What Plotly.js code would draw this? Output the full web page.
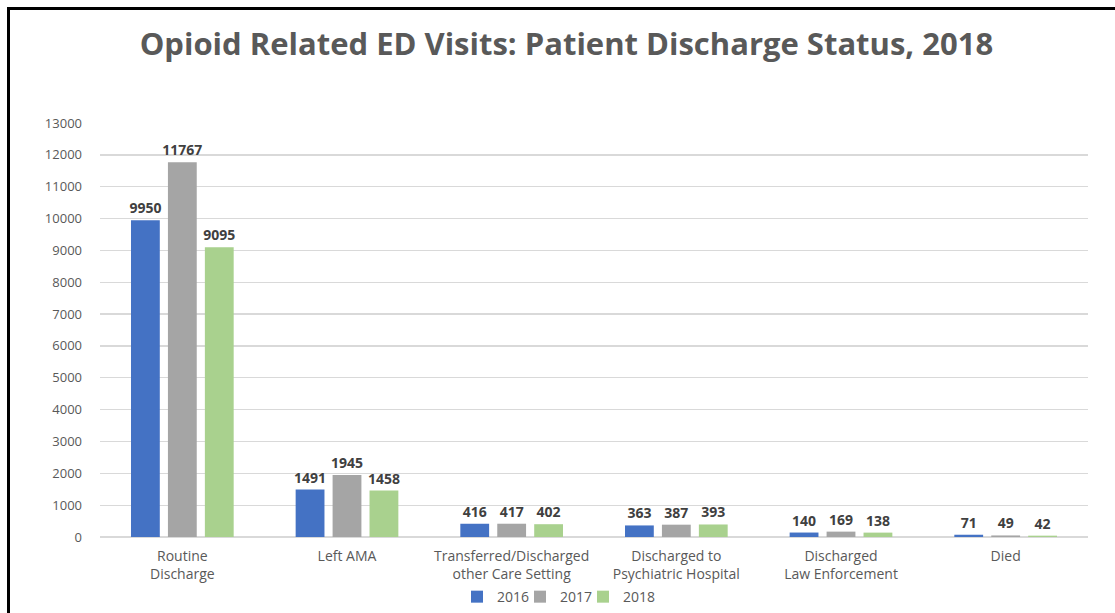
<!DOCTYPE html>
<html>
<head>
<meta charset="utf-8">
<script src="https://cdn.plot.ly/plotly-3.0.1.min.js"></script>
<style>
html,body{margin:0;padding:0;background:#fff;overflow:hidden;}
#wrap{position:relative;width:1115px;height:613px;overflow:hidden;}
#chart{width:1115px;height:613px;}
#frame{position:absolute;left:7px;top:7px;width:1115px;height:620px;border-top:3px solid #000;border-left:3px solid #000;pointer-events:none;}
</style>
</head>
<body>
<div id="wrap"><div id="chart"></div><div id="frame"></div></div>
<script>
const categories = ["Routine<br>Discharge", "Left AMA", "Transferred/Discharged<br>other Care Setting", "Discharged to<br>Psychiatric Hospital", "Discharged<br>Law Enforcement", "Died"];
const series2016 = [9950, 1491, 416, 363, 140, 71];
const series2017 = [11767, 1945, 417, 387, 169, 49];
const series2018 = [9095, 1458, 402, 393, 138, 42];
const seriesNames = ["2016", "2017", "2018"];
const tickValues = [0,1000,2000,3000,4000,5000,6000,7000,8000,9000,10000,11000,12000,13000];

const colors = ["#4472C4", "#A5A5A5", "#A9D18E"];
const legendIds = ["legend", "legend2", "legend3"];
const data = [series2016, series2017, series2018].map((vals, i) => ({
  type: "bar",
  name: seriesNames[i],
  legend: legendIds[i],
  x: categories,
  y: vals,
  marker: {color: colors[i]},
  text: vals.map(String),
  textposition: "outside",
  constraintext: "none",
  cliponaxis: false,
  textfont: {family: "Open Sans", size: 14, color: "#404040", weight: "bold"},
  hoverinfo: "x+y"
}));

function legendAt(px) {
  return {orientation: "h", xref: "container", x: px / 1115, xanchor: "left", yref: "container", y: 0.026, yanchor: "middle", font: {size: 14, color: "#595959"}, itemwidth: 30, bgcolor: "rgba(0,0,0,0)"};
}

const layout = {
  width: 1115, height: 613,
  margin: {l: 100, r: 27, t: 123, b: 76, pad: 0},
  paper_bgcolor: "#fff", plot_bgcolor: "#fff",
  font: {family: "Open Sans", color: "#595959", size: 13},
  title: {text: "<b>Opioid Related ED Visits: Patient Discharge Status, 2018</b>",
    font: {family: "Open Sans", size: 31, color: "#595959"},
    x: 0.508, xref: "container", xanchor: "center", y: 0.928, yref: "container", yanchor: "middle"},
  barmode: "group",
  bargap: 0.327,
  bargroupgap: 0.22,
  xaxis: {showline: false, ticks: "", tickfont: {size: 14, color: "#595959"}, showgrid: false, zeroline: false, automargin: false, ticklabelstandoff: 9},
  yaxis: {range: [0, 13000], tickvals: tickValues, ticktext: tickValues.map(String), showgrid: true, gridcolor: "#d9d9d9", gridwidth: 1.3, zeroline: true, zerolinecolor: "#d9d9d9", zerolinewidth: 1.3, showline: false, ticks: "", tickfont: {size: 13, color: "#595959"}, ticklabelstandoff: 17, automargin: false},
  showlegend: true,
  legend: legendAt(457),
  legend2: legendAt(520),
  legend3: legendAt(583)
};
Plotly.newPlot("chart", data, layout, {displayModeBar: false, staticPlot: true});
</script>
</body>
</html>
